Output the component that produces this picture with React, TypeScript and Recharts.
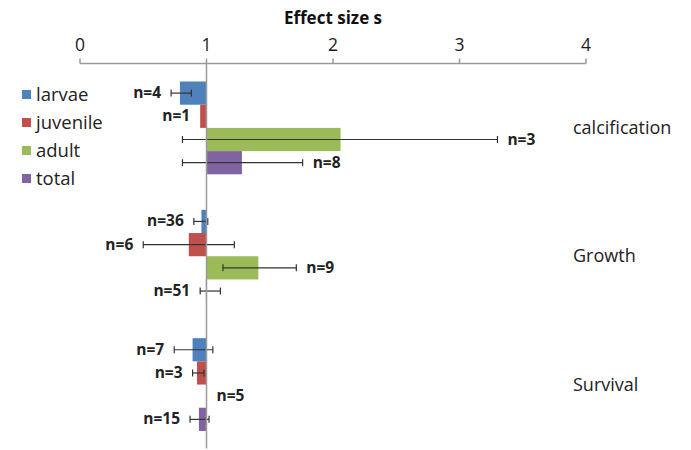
import React from 'react';
import { BarChart, Bar, XAxis, YAxis, ReferenceLine, Legend } from 'recharts';

const categories = ['calcification', 'Growth', 'Survival'];
const seriesNames = ['larvae', 'juvenile', 'adult', 'total'];
const seriesColors = ['#4F81BD', '#C0504D', '#9BBB59', '#8064A2'];
const xTicks = [0, 1, 2, 3, 4];
const X_MIN = 0;
const X_MAX = 4;
const baseline = 1;

// effect size (mean), lower and upper bounds of the error bar, sample size
const larvaeMean = [0.79, 0.96, 0.89];
const larvaeLow = [0.72, 0.9, 0.745];
const larvaeHigh = [0.88, 1.01, 1.05];
const larvaeN = [4, 36, 7];

const juvenileMean = [0.95, 0.86, 0.925];
const juvenileLow = [0.95, 0.5, 0.89];
const juvenileHigh = [0.95, 1.22, 0.98];
const juvenileN = [1, 6, 3];

const adultMean = [2.06, 1.41, 1.0];
const adultLow = [0.81, 1.13, 1.0];
const adultHigh = [3.3, 1.71, 1.0];
const adultN = [3, 9, 5];

const totalMean = [1.28, 0.995, 0.94];
const totalLow = [0.81, 0.95, 0.87];
const totalHigh = [1.76, 1.11, 1.02];
const totalN = [8, 51, 15];

const means: Record<string, number[]> = { larvae: larvaeMean, juvenile: juvenileMean, adult: adultMean, total: totalMean };
const lows: Record<string, number[]> = { larvae: larvaeLow, juvenile: juvenileLow, adult: adultLow, total: totalLow };
const highs: Record<string, number[]> = { larvae: larvaeHigh, juvenile: juvenileHigh, adult: adultHigh, total: totalHigh };
const counts: Record<string, number[]> = { larvae: larvaeN, juvenile: juvenileN, adult: adultN, total: totalN };

const data = categories.map((c, i) => {
  const row: any = { category: c };
  seriesNames.forEach((s) => {
    row[s] = [baseline, means[s][i]];
    row[s + 'Low'] = lows[s][i];
    row[s + 'High'] = highs[s][i];
    row[s + 'N'] = counts[s][i];
  });
  return row;
});

const FONT = '"Open Sans", "Noto Sans", sans-serif';

const makeShape = (key: string, color: string) => (props: any) => {
  const { x, y, width, height, payload, background } = props;
  const mean = payload[key][1];
  const lo = payload[key + 'Low'];
  const hi = payload[key + 'High'];
  const n = payload[key + 'N'];
  let toPx: (v: number) => number;
  if (background && background.width) {
    const ppu = background.width / (X_MAX - X_MIN);
    toPx = (v) => background.x + (v - X_MIN) * ppu;
  } else {
    const ppu = mean !== baseline ? width / (mean - baseline) : 0;
    toPx = (v) => x + (v - baseline) * ppu;
  }
  const xb = toPx(baseline);
  const xm = toPx(mean);
  const left = Math.min(xb, xm);
  const w = Math.abs(xm - xb);
  const cy = y + height / 2;
  const xl = toPx(lo);
  const xh = toPx(hi);
  const hasErr = hi - lo > 0.001;
  const onLeft = mean < baseline;
  const gap = 10;
  const lx = onLeft ? (hasErr ? xl : left) - gap : (hasErr ? xh : left + w) + gap;
  return (
    <g>
      {w > 0 && <rect x={left} y={y} width={w} height={height} fill={color} />}
      {hasErr && (
        <g stroke="#333" strokeWidth={1.2}>
          <line x1={xl} x2={xh} y1={cy} y2={cy} />
          <line x1={xl} x2={xl} y1={cy - 3.5} y2={cy + 3.5} />
          <line x1={xh} x2={xh} y1={cy - 3.5} y2={cy + 3.5} />
        </g>
      )}
      <text
        x={lx}
        y={cy + 5}
        textAnchor={onLeft ? 'end' : 'start'}
        fontFamily={FONT}
        fontWeight={700}
        fontSize={15.5}
        fill="#222"
      >
        {'n=' + n}
      </text>
    </g>
  );
};

const renderLegend = () => (
  <div style={{ fontFamily: FONT, fontSize: 18.5, color: '#222', lineHeight: '28px' }}>
    {seriesNames.map((s, i) => (
      <div key={s} style={{ display: 'flex', alignItems: 'center', height: 28 }}>
        <span style={{ display: 'inline-block', width: 9, height: 9, background: seriesColors[i], marginRight: 5 }} />
        <span>{s}</span>
      </div>
    ))}
  </div>
);

const CategoryTick = (props: any) => {
  const { x, y, payload } = props;
  return (
    <text x={x - 13} y={y} dy="0.35em" textAnchor="start" fontFamily={FONT} fontSize={18} fill="#222">
      {payload.value}
    </text>
  );
};

const AxisTitle = (props: any) => {
  const vb = props.viewBox || { x: 80, y: 0, width: 506, height: 63.5 };
  return (
    <text x={vb.x + vb.width / 2} y={vb.y + 24} textAnchor="middle" fontFamily={FONT} fontWeight={700} fontSize={17} fill="#111">
      Effect size s
    </text>
  );
};

export default function App() {
  return (
    <div style={{ position: 'absolute', left: 0, top: 0, width: 691, height: 450, background: '#fff' }}>
      <BarChart
        width={691}
        height={450}
        data={data}
        layout="vertical"
        margin={{ top: 0, right: 0, bottom: 1.5, left: 80 }}
        barSize={23.2}
        barGap={0}
      >
        <XAxis
          type="number"
          orientation="top"
          domain={[X_MIN, X_MAX]}
          ticks={xTicks}
          height={63.5}
          stroke="#9a9a9a"
          strokeWidth={1.5}
          tickSize={5}
          tickMargin={8}
          tick={{ fontFamily: FONT, fontSize: 17.5, fill: '#1a1a1a' }}
          label={AxisTitle}
          allowDataOverflow
        />
        <YAxis
          type="category"
          dataKey="category"
          orientation="right"
          width={105}
          axisLine={false}
          tickLine={false}
          tickSize={0}
          tickMargin={0}
          tick={CategoryTick}
        />
        <ReferenceLine x={baseline} stroke="#9a9a9a" strokeWidth={1.5} />
        <Legend
          layout="vertical"
          align="center"
          verticalAlign="middle"
          wrapperStyle={{ left: 22, top: 80, width: 'auto' }}
          content={renderLegend}
        />
        {seriesNames.map((s, i) => (
          <Bar
            key={s}
            dataKey={s}
            name={s}
            fill={seriesColors[i]}
            isAnimationActive={false}
            shape={makeShape(s, seriesColors[i])}
          />
        ))}
      </BarChart>
    </div>
  );
}
